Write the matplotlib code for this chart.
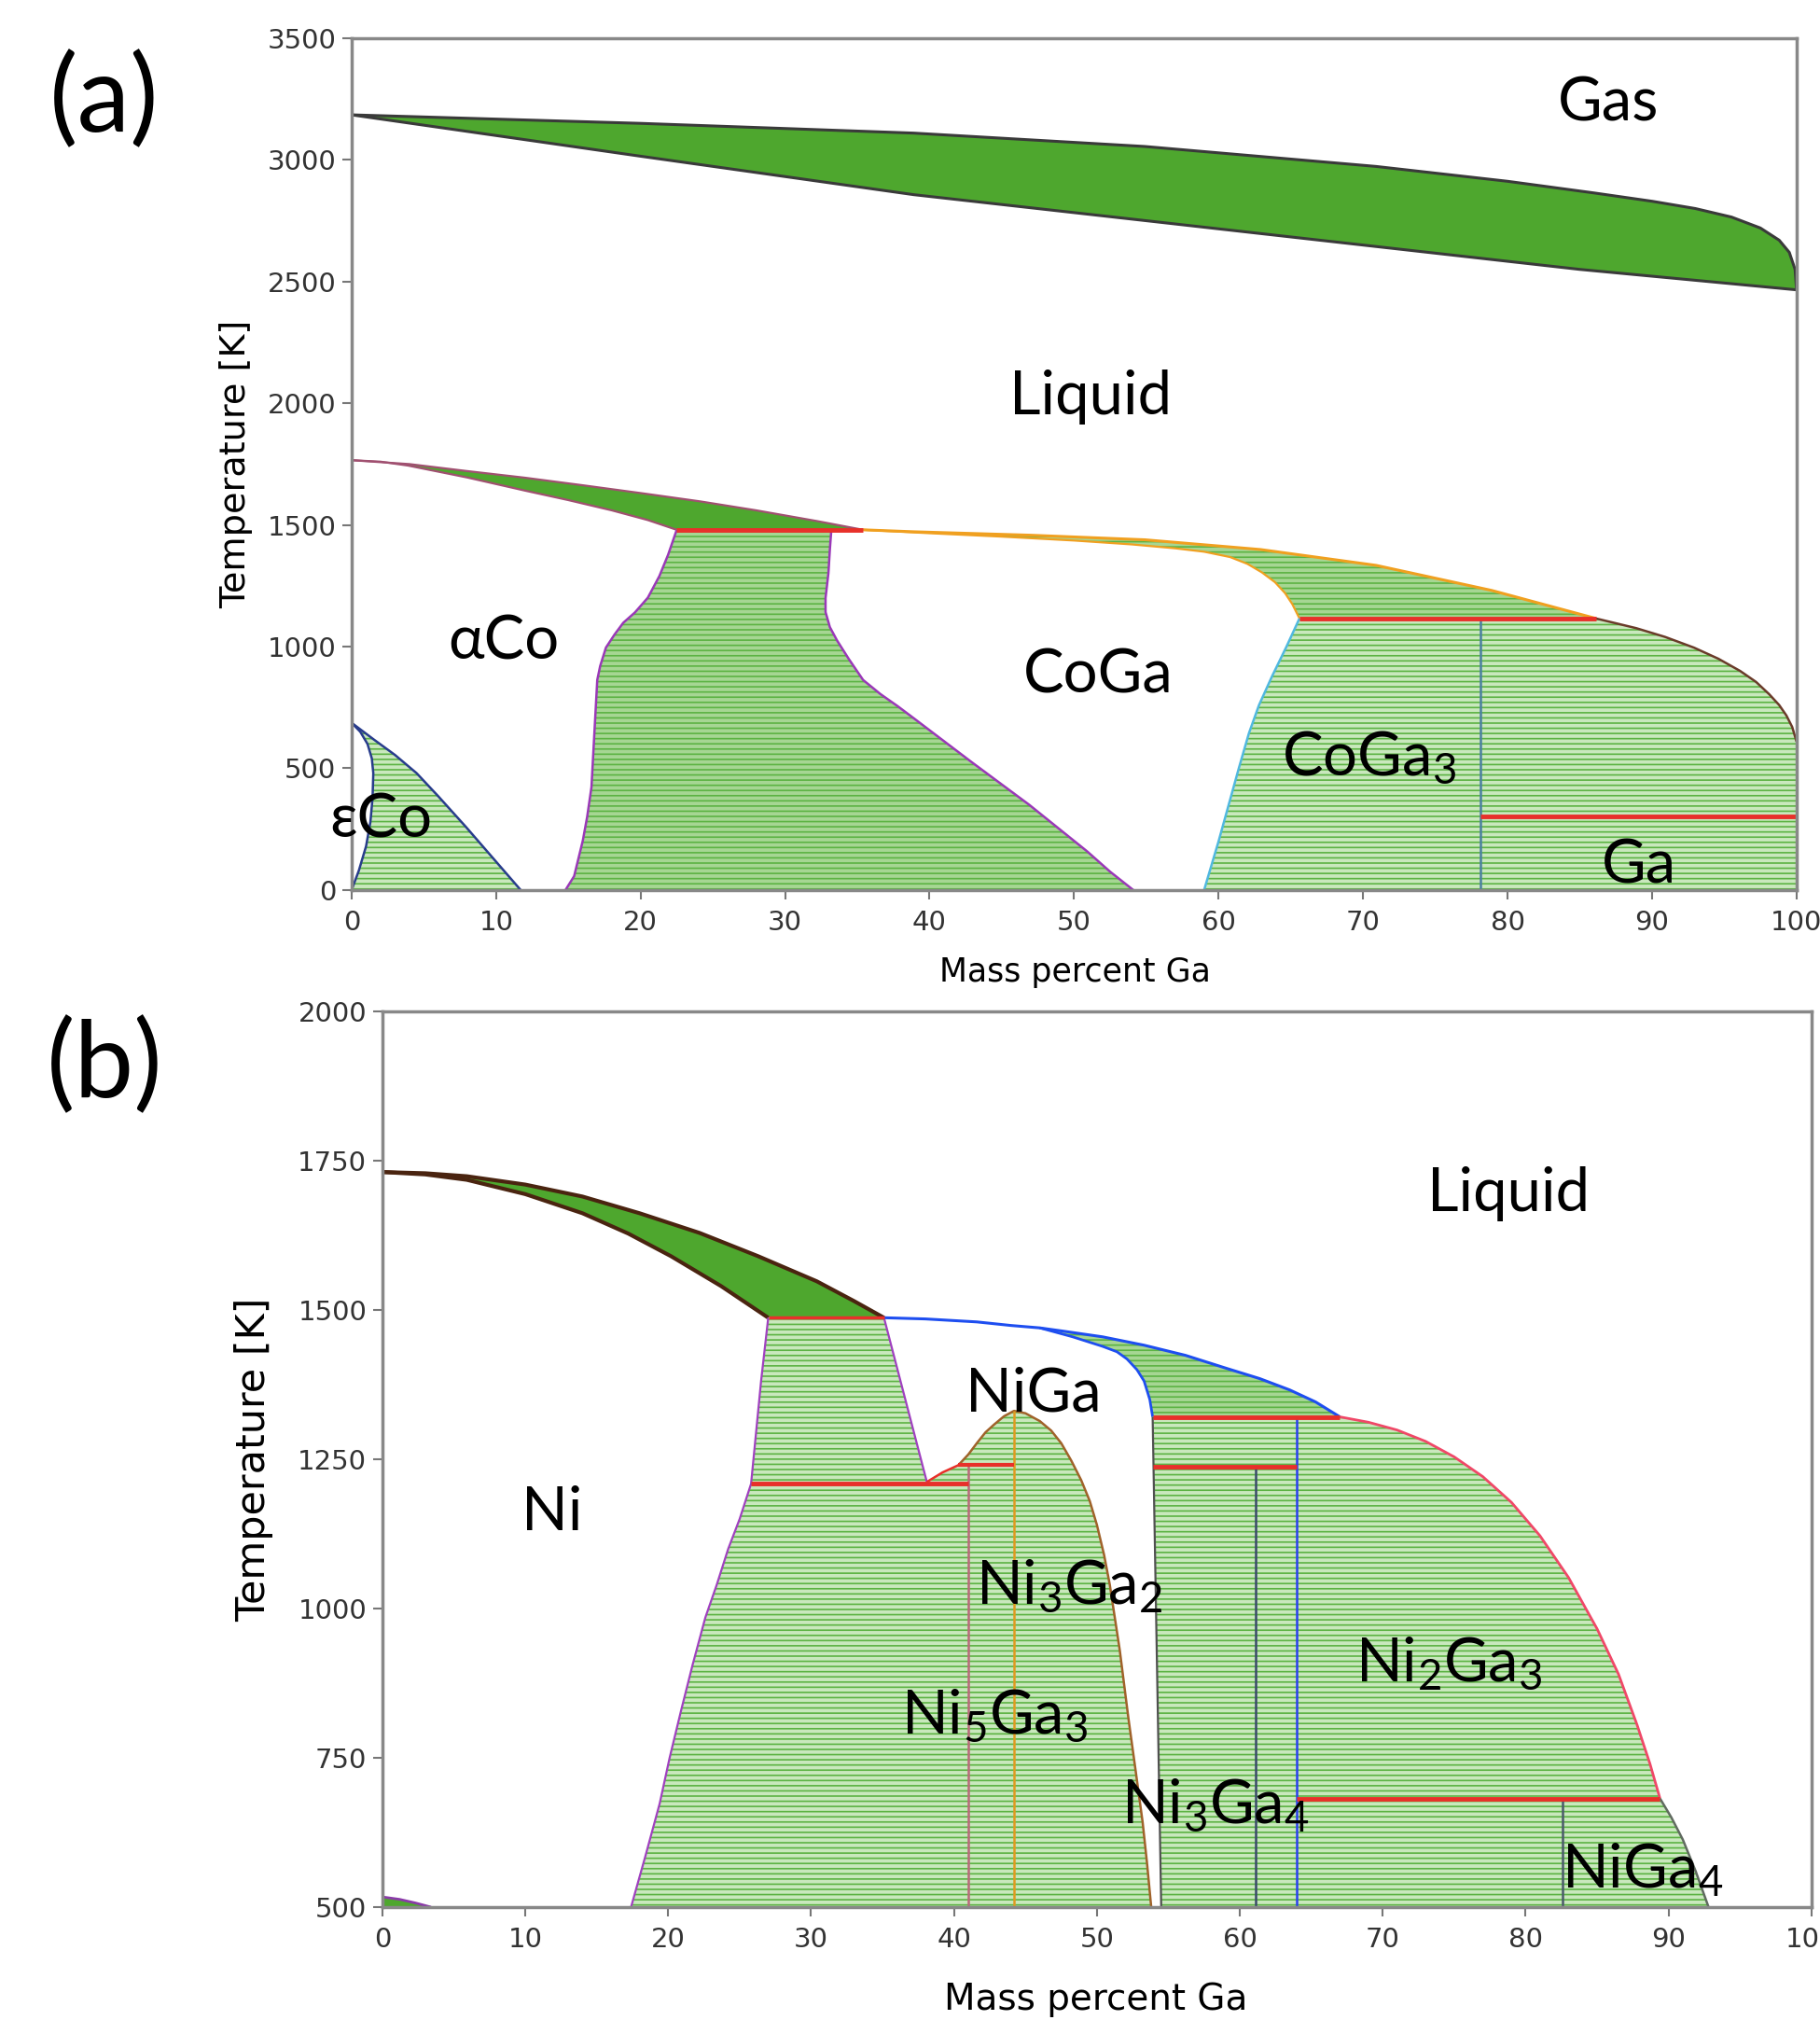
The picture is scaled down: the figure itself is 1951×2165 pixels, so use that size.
import numpy as np
import matplotlib
matplotlib.use("Agg")
import matplotlib.pyplot as plt

plt.rcParams["mathtext.default"] = "regular"
plt.rcParams["hatch.linewidth"] = 1.2

# ---------------- Panel (a): Co-Ga ----------------
a_gas_up_x = [0, 20, 38.9, 54.9, 70.9, 80, 86, 90, 93, 95.5, 97.5, 98.8, 99.5, 99.9, 100]
a_gas_up_T = [3185, 3150, 3110, 3055, 2973, 2912, 2864, 2830, 2800, 2765, 2720, 2670, 2620, 2550, 2466]
a_gas_lo_x = [0, 20, 38.9, 55, 70.9, 85, 100]
a_gas_lo_T = [3185, 3015, 2857, 2750, 2644, 2550, 2466]

a_liq1_x = [0, 4, 7.9, 12, 16.0, 20, 24.1, 28, 32.2, 35.4]
a_liq1_T = [1766, 1750, 1722, 1694, 1663, 1631, 1597, 1560, 1516, 1480]
a_sol1_x = [0, 2, 3.9, 8, 12.0, 15, 18.0, 20.5, 22.5]
a_sol1_T = [1766, 1760, 1744, 1695, 1641, 1602, 1560, 1520, 1480]

a_eps_l_x = [0, 0.6, 1.1, 1.4, 1.5, 1.45, 1.3, 1.0, 0.5, 0]
a_eps_l_T = [687, 650, 600, 540, 480, 380, 280, 180, 80, 0]
a_eps_r_x = [0, 1.5, 3.0, 4.5, 6.0, 7.9, 9.8, 11.7]
a_eps_r_T = [687, 620, 555, 480, 385, 260, 130, 0]

a_ac_l_x = [22.5, 21.9, 21.3, 20.5, 19.6, 18.8, 18.2, 17.6, 17.2, 17.0, 16.8, 16.6, 16.3, 16.0, 15.4, 14.8]
a_ac_l_T = [1480, 1377, 1290, 1201, 1140, 1098, 1050, 996, 920, 863, 644, 423, 300, 203, 57, 0]
a_ac_r_x = [33.2, 33.1, 33.0, 32.8, 32.8, 33.1, 33.6, 34.4, 35.4, 36.6, 37.8, 38.9, 42.9, 46.9, 50.9, 52.5, 54.1]
a_ac_r_T = [1480, 1400, 1303, 1200, 1142, 1080, 1025, 950, 863, 805, 755, 706, 526, 350, 159, 75, 0]

a_liq2_x = [35.4, 38.9, 46.9, 54.9, 62.9, 70.9, 78.9, 86.1]
a_liq2_T = [1480, 1472, 1458, 1439, 1399, 1334, 1231, 1116]
a_sol2_x = [35.4, 40, 45, 50, 54, 57, 59, 60.8, 62.0, 63.0, 63.9, 64.6, 65.1, 65.6]
a_sol2_T = [1480, 1466, 1452, 1436, 1420, 1404, 1390, 1368, 1340, 1305, 1265, 1220, 1175, 1116]

a_cg3_x = [65.6, 64.7, 63.7, 62.8, 62.1, 61.4, 60.7, 60.0, 59.0]
a_cg3_T = [1116, 1000, 878, 760, 644, 500, 350, 200, 0]
a_liq3_x = [86.1, 88.9, 90.9, 92.9, 94.6, 96.1, 97.2, 98.1, 98.8, 99.3, 99.7, 100]
a_liq3_T = [1116, 1076, 1040, 996, 950, 900, 855, 805, 760, 717, 670, 610]

a_T_peri1 = 1480
a_T_peri2 = 1116
a_T_ga = 303
a_x_coga3 = 78.1

a_labels = ["Gas", "Liquid", "αCo", "CoGa", "CoGa$_3$", "εCo", "Ga"]
a_lab_x = [83.5, 45.5, 6.7, 46.5, 64.4, -1.5, 86.5]
a_lab_T = [3159, 1956, 949, 811, 472, 217, 27]

# ---------------- Panel (b): Ni-Ga ----------------
b_liq1_x = [0, 3, 5.9, 10, 14.0, 18, 22.2, 26.3, 30.4, 33, 35.1]
b_liq1_T = [1731, 1729, 1724, 1710, 1690, 1662, 1629, 1590, 1548, 1515, 1487]
b_sol1_x = [0, 3, 5.9, 10, 14.0, 17.2, 20.2, 23.7, 27.0]
b_sol1_T = [1731, 1727, 1718, 1694, 1662, 1628, 1590, 1540, 1487]

b_ni_x = [27.0, 26.5, 25.8, 25.0, 24.2, 23.4, 22.6, 21.7, 20.9, 20.1, 19.4, 18.4, 17.4]
b_ni_T = [1487, 1381, 1209, 1150, 1100, 1040, 985, 905, 829, 750, 673, 585, 500]
b_v_x = [35.1, 38.1]
b_v_T = [1487, 1212]
b_rc_x = [38.1, 39.2, 40.3]
b_rc_T = [1212, 1228, 1240]
b_dome_x = [40.3, 41.0, 41.6, 42.2, 42.8, 43.5, 44.2, 45.0, 46.0, 46.8, 47.5, 48.2, 48.9,
            49.5, 50.0, 50.5, 50.9, 51.6, 52.2, 52.7, 53.2, 53.5, 53.8]
b_dome_T = [1240, 1258, 1277, 1295, 1308, 1322, 1331, 1327, 1314, 1298, 1277, 1248, 1215,
            1180, 1140, 1090, 1040, 930, 817, 730, 642, 575, 500]

b_liq2_x = [35.1, 38, 41.6, 44, 46.0, 47.5, 50.4, 53.3, 56.2, 59.1, 61.4, 63.5, 65.3, 67.0]
b_liq2_T = [1487, 1485, 1480, 1474, 1470, 1465, 1455, 1441, 1424, 1402, 1385, 1366, 1346, 1321]
b_ng_x = [46.0, 48.3, 50.4, 51.4, 52.1, 52.8, 53.3, 53.7, 53.9]
b_ng_T = [1470, 1455, 1439, 1430, 1418, 1400, 1381, 1350, 1321]
b_ng_bottom_x = 54.5

b_liq3_x = [67.0, 69, 71, 73, 75, 77, 79, 81, 83, 85, 86.5, 87.8, 88.7, 89.4]
b_liq3_T = [1321, 1312, 1299, 1280, 1254, 1221, 1178, 1122, 1052, 966, 890, 805, 740, 682]
b_g4_x = [89.4, 90.2, 91.0, 91.9, 92.8]
b_g4_T = [682, 650, 613, 560, 500]

b_small_x = [0, 1.2, 2.3, 3.4]
b_small_T = [517, 513, 507, 500]

b_T_1209 = 1209
b_T_1240 = 1240
b_T_1321 = 1321
b_T_1237 = 1237
b_T_683 = 682
b_x_41 = 41.0
b_x_44 = 44.2
b_x_61 = 61.1
b_x_64 = 64.0
b_x_83 = 82.6

b_labels = ["Liquid", "NiGa", "Ni", "Ni$_3$Ga$_2$", "Ni$_2$Ga$_3$", "Ni$_5$Ga$_3$",
            "Ni$_3$Ga$_4$", "NiGa$_4$"]
b_lab_x = [73.1, 40.8, 9.7, 41.5, 68.1, 36.3, 51.7, 82.5]
b_lab_T = [1665, 1331, 1132, 1007, 878, 791, 640, 532]

# ---------------- styles ----------------
SOLID = "#4ea72e"
HFACE = "#c9e8bd"
HFACE_D = "#a6d693"
HCOL = "#5cb343"
RED = "#e8302a"
LABFONT = ["Lato", "DejaVu Sans"]


def P(x, T):
    return np.column_stack([np.asarray(x, float), np.asarray(T, float)])


def poly(*parts):
    return np.vstack(parts)


def fill_solid(ax, pts, color=SOLID):
    ax.fill(pts[:, 0], pts[:, 1], facecolor=color, edgecolor="none", lw=0, zorder=1)


def fill_hatch(ax, pts, face=HFACE):
    ax.fill(pts[:, 0], pts[:, 1], facecolor=face, edgecolor=HCOL, lw=0,
            hatch="---", zorder=1)


def line(ax, x, T, color, lw=1.8):
    ax.plot(x, T, color=color, lw=lw, zorder=3, solid_capstyle="butt",
            solid_joinstyle="round")


def style_axes(ax, xticks, yticks, ylim):
    ax.set_xlim(0, 100)
    ax.set_ylim(*ylim)
    ax.set_xticks(xticks)
    ax.set_yticks(yticks)
    for s in ax.spines.values():
        s.set_color("#888888")
        s.set_linewidth(2.5)
        s.set_zorder(4)
    ax.tick_params(direction="out", length=7, width=1.5, color="#777777",
                   labelsize=21, labelcolor="#333333")
    ax.tick_params(axis="x", pad=8)
    ax.tick_params(axis="y", pad=5)


fig = plt.figure(figsize=(19.51, 21.65), dpi=100)

# ================= Panel (a) =================
axA = fig.add_axes([0.1932, 0.5594, 0.7939, 0.4217])
style_axes(axA, np.arange(0, 101, 10), np.arange(0, 3501, 500), (0, 3500))

fill_solid(axA, poly(P(a_gas_up_x, a_gas_up_T), P(a_gas_lo_x, a_gas_lo_T)[::-1]))
fill_solid(axA, poly(P(a_liq1_x, a_liq1_T), P(a_sol1_x, a_sol1_T)[::-1]))
fill_hatch(axA, poly(P(a_eps_l_x, a_eps_l_T), P(a_eps_r_x, a_eps_r_T)[::-1]))
fill_hatch(axA, poly(P(a_ac_l_x, a_ac_l_T), P(a_ac_r_x, a_ac_r_T)[::-1]), HFACE_D)
fill_hatch(axA, poly(P(a_liq2_x, a_liq2_T), P(a_sol2_x, a_sol2_T)[::-1]), HFACE_D)
fill_hatch(axA, poly(P(a_cg3_x, a_cg3_T), P([100], [0]), P(a_liq3_x, a_liq3_T)[::-1]))

line(axA, a_gas_up_x, a_gas_up_T, "#3a3a3a", 2.2)
line(axA, a_gas_lo_x, a_gas_lo_T, "#3a3a3a", 2.2)
line(axA, a_liq1_x, a_liq1_T, "#a05070", 1.6)
line(axA, a_sol1_x, a_sol1_T, "#a05070", 1.6)
line(axA, a_eps_l_x, a_eps_l_T, "#283c8c", 1.8)
line(axA, a_eps_r_x, a_eps_r_T, "#283c8c", 1.8)
line(axA, a_ac_l_x, a_ac_l_T, "#9a38b8", 1.8)
line(axA, a_ac_r_x, a_ac_r_T, "#9a38b8", 1.8)
line(axA, a_liq2_x, a_liq2_T, "#f0a020", 2.2)
line(axA, a_sol2_x, a_sol2_T, "#f0a020", 1.6)
line(axA, a_cg3_x, a_cg3_T, "#50b8e0", 1.8)
line(axA, [a_x_coga3, a_x_coga3], [0, a_T_peri2], "#4a7fa0", 1.8)
line(axA, a_liq3_x, a_liq3_T, "#6a3b2a", 1.8)
line(axA, [a_sol1_x[-1], a_liq1_x[-1]], [a_T_peri1, a_T_peri1], RED, 3.5)
line(axA, [a_cg3_x[0], a_liq3_x[0]], [a_T_peri2, a_T_peri2], RED, 3.5)
line(axA, [a_x_coga3, 100], [a_T_ga, a_T_ga], RED, 3.5)

for t, x, T in zip(a_labels, a_lab_x, a_lab_T):
    axA.text(x, T, t, fontsize=47, family=LABFONT, ha="left", va="baseline",
             color="black", zorder=6)

axA.set_ylabel("Temperature [K]", fontsize=27.5, color="black")
axA.yaxis.set_label_coords(-0.068, 0.50)
axA.set_xlabel("Mass percent Ga", fontsize=25, color="black")
axA.xaxis.set_label_coords(0.501, -0.078)

# ================= Panel (b) =================
axB = fig.add_axes([0.2101, 0.0559, 0.7852, 0.4434])
style_axes(axB, np.arange(0, 101, 10), np.arange(500, 2001, 250), (500, 2000))

fill_solid(axB, poly(P(b_liq1_x, b_liq1_T), P(b_sol1_x, b_sol1_T)[::-1]))
fill_solid(axB, poly(P(b_small_x, b_small_T), P([0], [500])))
fill_hatch(axB, poly(P(b_ni_x, b_ni_T)[::-1], P(b_v_x, b_v_T), P(b_rc_x, b_rc_T),
                     P(b_dome_x, b_dome_T)))
liq2_arr = P(b_liq2_x, b_liq2_T)
liq2_upper = liq2_arr[liq2_arr[:, 0] >= b_ng_x[0]]
fill_hatch(axB, poly(liq2_upper, P(b_ng_x, b_ng_T)[::-1]), HFACE_D)
fill_hatch(axB, poly(P([b_ng_x[-1]], [b_T_1321]), P(b_liq3_x, b_liq3_T),
                     P(b_g4_x, b_g4_T), P([b_ng_bottom_x], [500])))

line(axB, b_liq1_x, b_liq1_T, "#4a2410", 3.0)
line(axB, b_sol1_x, b_sol1_T, "#4a2410", 3.0)
line(axB, b_small_x, b_small_T, "#8a3aa8", 2.0)
line(axB, b_ni_x, b_ni_T, "#a040c0", 1.6)
line(axB, b_v_x, b_v_T, "#a040c0", 1.6)
line(axB, b_rc_x, b_rc_T, RED, 1.8)
line(axB, b_dome_x, b_dome_T, "#a0622a", 1.8)
line(axB, [b_x_41, b_x_41], [500, b_T_1240], "#b86a7a", 1.8)
line(axB, [b_x_44, b_x_44], [500, max(b_dome_T)], "#e09a20", 1.8)
line(axB, b_liq2_x, b_liq2_T, "#1e4ef0", 2.2)
line(axB, b_ng_x, b_ng_T, "#1e4ef0", 2.0)
line(axB, [b_ng_x[-1], b_ng_bottom_x], [b_T_1321, 500], "#505050", 1.6)
line(axB, [b_x_64, b_x_64], [500, b_T_1321], "#2a40f0", 1.8)
line(axB, [b_x_61, b_x_61], [500, b_T_1237], "#3a4a6a", 1.8)
line(axB, b_liq3_x, b_liq3_T, "#f04868", 2.0)
line(axB, [b_x_83, b_x_83], [500, b_T_683], "#4a5a6a", 1.8)
line(axB, b_g4_x, b_g4_T, "#606a60", 1.8)
line(axB, [b_sol1_x[-1], b_liq1_x[-1]], [b_sol1_T[-1], b_liq1_T[-1]], RED, 2.5)
line(axB, [b_ni_x[2], b_x_41], [b_T_1209, b_T_1209], RED, 3.5)
line(axB, [b_rc_x[-1], b_x_44], [b_T_1240, b_T_1240], RED, 3.0)
line(axB, [b_ng_x[-1], b_liq2_x[-1]], [b_T_1321, b_T_1321], RED, 3.5)
line(axB, [b_ng_x[-1], b_x_64], [b_T_1237, b_T_1237], RED, 3.5)
line(axB, [b_x_64, b_liq3_x[-1]], [b_T_683, b_T_683], RED, 3.5)

for t, x, T in zip(b_labels, b_lab_x, b_lab_T):
    axB.text(x, T, t, fontsize=47, family=LABFONT, ha="left", va="baseline",
             color="black", zorder=6)

axB.set_ylabel("Temperature [K]", fontsize=31, color="black")
axB.yaxis.set_label_coords(-0.076, 0.50)
axB.set_xlabel("Mass percent Ga", fontsize=28, color="black")
axB.xaxis.set_label_coords(0.499, -0.083)

# panel letters
fig.text(112 / 1951, 1 - 108 / 2165, "(a)", fontsize=82, family=LABFONT,
         ha="center", va="center")
fig.text(112 / 1951, 1 - 1143 / 2165, "(b)", fontsize=82, family=LABFONT,
         ha="center", va="center")

fig.savefig("out.png", dpi=100)
